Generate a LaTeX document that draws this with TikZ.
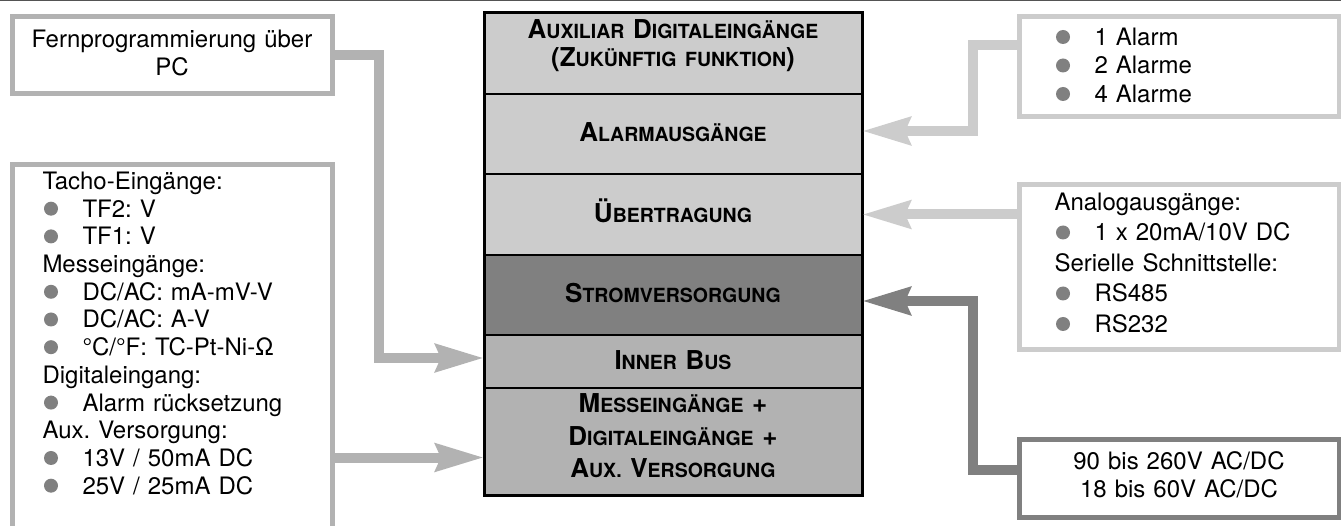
\documentclass[tikz,border=0pt]{standalone}
\usepackage{fontspec}
\setmainfont{TeX Gyre Heros}
\usetikzlibrary{arrows.meta,positioning}
\frenchspacing

\definecolor{midgray}{gray}{0.70}
\definecolor{palegray}{gray}{0.80}
\definecolor{deepgray}{gray}{0.50}
\definecolor{topgray}{gray}{0.33}

% grey bullet, then indent to the item text
\newcommand\bul{\makebox[40pt][l]{\hspace{1.5pt}\tikz[baseline=-8.5pt]\fill[deepgray] (0,0) circle (7pt);}}
% small caps by hand
\newcommand\smc[1]{{\fontsize{19.5pt}{19.5pt}\selectfont #1}}

\begin{document}
\begin{tikzpicture}[
        x=1pt, y=-1pt,
        font=\fontsize{24pt}{28.5pt}\selectfont,
        box/.style={draw, line width=5pt, inner ysep=0pt, anchor=north west},
        listbox/.style={box, inner xsep=35.5pt, text width=249pt, align=left},
        row/.style={draw=black, line width=2pt, inner sep=0pt, outer sep=0pt,
            text width=378pt, align=center, font=\bfseries\fontsize{26pt}{28pt}\selectfont},
        lconn/.style={draw=midgray, line width=10pt, -{Stealth[length=48pt, width=27pt, inset=5pt]}},
        rconn/.style={lconn, draw=palegray},
        pconn/.style={lconn, draw=deepgray},
    ]
    \useasboundingbox (0,0) rectangle (1341,526);
    \clip (0,0) rectangle (1341,526);
    \draw[topgray, line width=1.5pt] (0,0.75) -- (1341,0.75);

    % central stack
    \node[row, fill=palegray, anchor=north, text height=26pt, text depth=55pt] (aux) at (673,13)
        {A\smc{UXILIAR} D\smc{IGITALEINGÄNGE}\\(Z\smc{UKÜNFTIG FUNKTION})};
    \node[row, fill=palegray, below=0pt of aux, text height=48pt, text depth=32pt] (alarm)
        {A\smc{LARMAUSGÄNGE}};
    \node[row, fill=palegray, below=0pt of alarm, text height=48.5pt, text depth=32.5pt] (ueb)
        {Ü\smc{BERTRAGUNG}};
    \node[row, fill=deepgray, below=0pt of ueb, text height=48pt, text depth=32pt] (strom)
        {S\smc{TROMVERSORGUNG}};
    \node[row, fill=midgray, below=0pt of strom, text height=34.5pt, text depth=18.5pt] (bus)
        {I\smc{NNER} B\smc{US}};
    \node[row, fill=midgray, below=0pt of bus, text height=25pt, text depth=82pt,
        font=\bfseries\fontsize{26pt}{32.5pt}\selectfont] (mess)
        {M\smc{ESSEINGÄNGE} +\\D\smc{IGITALEINGÄNGE} +\\A\smc{UX.} V\smc{ERSORGUNG}};
    \draw[line width=3pt] (aux.north west) rectangle (mess.south east);

    % left side
    \node[box, draw=midgray, inner xsep=0pt, text width=320pt, align=center,
        text height=30.5pt, text depth=46.5pt] (pc) at (9.5,14.5)
        {Fernprogrammierung über\\PC};
    \node[box, draw=midgray, inner xsep=30.5pt, text width=259pt, align=left,
        text height=24.5pt, text depth=413pt, font=\fontsize{24pt}{27.7pt}\selectfont] (tacho) at (9.5,162.5)
        {Tacho-Eingänge:\\
        \bul TF2: V\\
        \bul TF1: V\\
        Messeingänge:\\
        \bul DC/AC: mA-mV-V\\
        \bul DC/AC: A-V\\
        \bul °C/°F: TC-Pt-Ni-Ω\\
        Digitaleingang:\\
        \bul Alarm rücksetzung\\
        Aux. Versorgung:\\
        \bul 13V / 50mA DC\\
        \bul 25V / 25mA DC};

    % right side
    \node[listbox, draw=palegray, text height=28.5pt, text depth=71.5pt] (alarms) at (1016.5,14.5)
        {\bul 1 Alarm\\
        \bul 2 Alarme\\
        \bul 4 Alarme};
    \node[listbox, draw=palegray, text height=25.5pt, text depth=139.5pt,
        font=\fontsize{24pt}{30.5pt}\selectfont] (analog) at (1016.5,182.5)
        {Analogausgänge:\\
        \bul 1 x 20mA/10V DC\\
        Serielle Schnittstelle:\\
        \bul RS485\\
        \bul RS232};
    \node[box, draw=deepgray, inner xsep=0pt, text width=320pt, align=center,
        text height=30.5pt, text depth=47.5pt, font=\fontsize{24pt}{28pt}\selectfont] (power) at (1016.5,436.5)
        {90 bis 260V AC/DC\\18 bis 60V AC/DC};

    % connectors
    \draw[lconn] (pc.east) -- ++(44,0) |- ([yshift=3.5pt]bus.west);
    \coordinate (messin) at ([yshift=-16pt]mess.west);
    \draw[lconn] (tacho.east |- messin) -- (messin);
    \draw[rconn] ([yshift=21.5pt]alarms.west) -- ++(-44,0) |- ([yshift=3pt]alarm.east);
    \draw[rconn] (analog.west |- ueb.east) -- (ueb.east);
    \draw[pconn] ([yshift=8.5pt]power.west) -- ++(-44,0) |- ([yshift=-6pt]strom.east);
\end{tikzpicture}
\end{document}
